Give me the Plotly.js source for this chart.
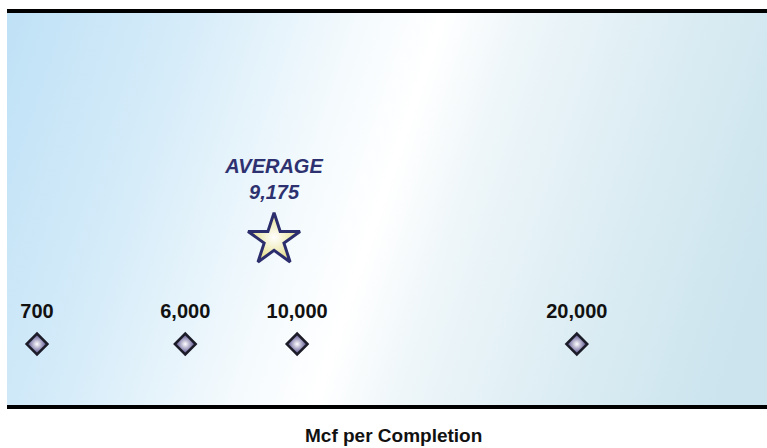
<!DOCTYPE html>
<html>
<head>
<meta charset="utf-8">
<script src="https://cdn.plot.ly/plotly-3.0.1.min.js"></script>
<style>html,body{margin:0;padding:0;background:#fff;}#chart{width:767px;height:448px;}</style>
</head>
<body>
<div id="chart"></div>
<script>
// ---- data ----
const values = [700, 6000, 10000, 20000];
const valueLabels = ['700', '6,000', '10,000', '20,000'];
const averageValue = 9175;
const averageLabel = 'AVERAGE<br>9,175';
const axisTitle = 'Mcf per Completion';

// ---- layout rows (levels on a 0..1 y axis) ----
const markerRow = 0.159;
const labelRow = 0.237;
const starRow = 0.422;
const avgTextRow = 0.571;

// background gradient drawn on a canvas and used as a layout image
function makeBg(w, h) {
  const c = document.createElement('canvas');
  c.width = w; c.height = h;
  const g = c.getContext('2d');
  const grad = g.createLinearGradient(0, 0, w, w * 0.33);
  grad.addColorStop(0, '#bfe1f6');
  grad.addColorStop(0.22, '#d6ecf9');
  grad.addColorStop(0.42, '#f4fafd');
  grad.addColorStop(0.52, '#ffffff');
  grad.addColorStop(0.62, '#eef6f9');
  grad.addColorStop(0.8, '#dcedf3');
  grad.addColorStop(1, '#cbe4ee');
  g.fillStyle = grad;
  g.fillRect(0, 0, w, h);
  return c.toDataURL('image/png');
}

const font = '"Liberation Sans", Arial, sans-serif';

const traces = [
  {
    x: values,
    y: values.map(() => markerRow),
    mode: 'markers',
    type: 'scatter',
    marker: {
      symbol: 'diamond',
      size: 16,
      color: '#473f82',
      gradient: {type: 'radial', color: '#ffffff'},
      line: {color: '#1c1c28', width: 2.5}
    },
    hoverinfo: 'x',
    showlegend: false
  },
  {
    x: values,
    y: values.map(() => labelRow),
    mode: 'text',
    type: 'scatter',
    text: valueLabels.map(s => '<b>' + s + '</b>'),
    textfont: {family: font, size: 20, color: '#111111'},
    hoverinfo: 'skip',
    showlegend: false
  },
  {
    x: [averageValue],
    y: [starRow],
    mode: 'markers',
    type: 'scatter',
    marker: {
      symbol: 'star',
      size: 39,
      color: '#e4dc86',
      gradient: {type: 'radial', color: '#ffffff'},
      line: {color: '#2b2d6c', width: 3}
    },
    hoverinfo: 'x',
    showlegend: false
  },
  {
    x: [averageValue],
    y: [avgTextRow],
    mode: 'text',
    type: 'scatter',
    text: ['<b><i>' + averageLabel + '</i></b>'],
    textfont: {family: font, size: 20, color: '#2e3170'},
    hoverinfo: 'skip',
    showlegend: false
  }
];

const layout = {
  width: 767,
  height: 448,
  margin: {l: 7, r: 0, t: 11, b: 41},
  paper_bgcolor: '#ffffff',
  plot_bgcolor: 'rgba(0,0,0,0)',
  xaxis: {
    range: [-373, 26800],
    showgrid: false, zeroline: false, showline: false,
    showticklabels: false, ticks: '',
    fixedrange: true
  },
  yaxis: {
    range: [0, 1],
    showgrid: false, zeroline: false, showline: false,
    showticklabels: false, ticks: '',
    fixedrange: true
  },
  annotations: [{
    text: '<b>' + axisTitle + '</b>',
    xref: 'paper', yref: 'paper',
    x: 0.5, y: 0, xshift: 6, yshift: -28,
    xanchor: 'center', yanchor: 'middle',
    showarrow: false,
    font: {family: font, size: 19, color: '#111111'}
  }],
  images: [{
    source: makeBg(760, 396),
    xref: 'paper', yref: 'paper',
    x: 0, y: 1, sizex: 1, sizey: 1,
    xanchor: 'left', yanchor: 'top',
    sizing: 'stretch', layer: 'below'
  }],
  shapes: [
    {type: 'line', xref: 'paper', yref: 'paper', x0: 0, x1: 1, y0: 1, y1: 1,
     line: {color: '#000000', width: 4}},
    {type: 'line', xref: 'paper', yref: 'paper', x0: 0, x1: 1, y0: 0, y1: 0,
     line: {color: '#000000', width: 4}}
  ]
};

Plotly.newPlot('chart', traces, layout, {displayModeBar: false, staticPlot: true});
</script>
</body>
</html>
